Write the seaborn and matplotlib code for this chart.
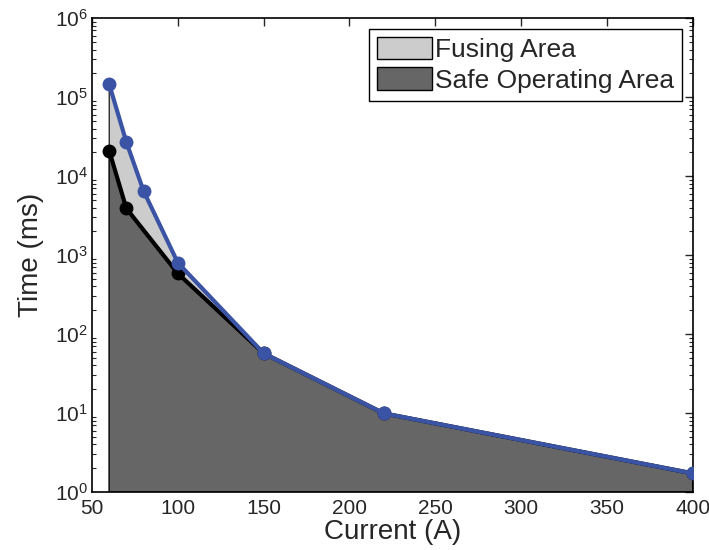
import matplotlib
matplotlib.use("Agg")
import matplotlib.pyplot as plt
import seaborn as sns
import pandas as pd
from matplotlib.patches import Patch
from matplotlib.ticker import LogLocator, NullFormatter

# Data
fusing_current = [60, 70, 80, 100, 150, 220, 400]
fusing_time = [1.46e5, 2.7e4, 6.5e3, 800, 57, 9.9, 1.72]
safe_current = [60, 70, 100, 150, 220, 400]
safe_time = [2.1e4, 3.9e3, 585, 57, 9.9, 1.72]
x_ticks = [50, 100, 150, 200, 250, 300, 350, 400]
legend_labels = ["Fusing Area", "Safe Operating Area"]

sns.set_style("white")
plt.rcParams["font.family"] = ["Liberation Sans", "DejaVu Sans"]
plt.rcParams["mathtext.fontset"] = "custom"
plt.rcParams["mathtext.rm"] = "Liberation Sans"
plt.rcParams["mathtext.it"] = "Liberation Sans:italic"

blue = "#3A53A4"
light = "#CCCCCC"
dark = "#666666"

fig = plt.figure(figsize=(7.09, 5.5), dpi=100)
ax = fig.add_axes([0.1298, 0.1055, 0.8472, 0.8615])
ax.set_yscale("log")
ax.set_xlim(50, 400)
ax.set_ylim(1, 1e6)

# filled areas (down to the bottom of the axis)
fx = fusing_current + [fusing_current[-1], fusing_current[0]]
fy = fusing_time + [1, 1]
ax.fill(fx, fy, facecolor=light, edgecolor="black", linewidth=0.8, zorder=1)
sx = safe_current + [safe_current[-1], safe_current[0]]
sy = safe_time + [1, 1]
ax.fill(sx, sy, facecolor=dark, edgecolor="black", linewidth=0.8, zorder=2)

df_safe = pd.DataFrame({"Current": safe_current, "Time": safe_time})
df_fuse = pd.DataFrame({"Current": fusing_current, "Time": fusing_time})
sns.lineplot(data=df_safe, x="Current", y="Time", ax=ax, color="black",
             linewidth=3, marker="o", markersize=10, markeredgewidth=0,
             zorder=3, legend=False)
sns.lineplot(data=df_fuse, x="Current", y="Time", ax=ax, color=blue,
             linewidth=3, marker="o", markersize=10, markeredgewidth=0,
             zorder=4, legend=False)

ax.set_xticks(x_ticks)
ax.set_xticklabels([str(v) for v in x_ticks])
ax.yaxis.set_major_locator(LogLocator(base=10, numticks=10))
ax.yaxis.set_minor_locator(LogLocator(base=10, subs=range(2, 10), numticks=20))
ax.yaxis.set_minor_formatter(NullFormatter())
ax.tick_params(axis="both", which="major", direction="in", length=6, width=1,
               top=True, right=True, labelsize=15, pad=3)
ax.tick_params(axis="x", which="major", pad=5)
ax.tick_params(axis="y", which="minor", direction="in", length=3, width=0.8,
               left=True, right=True)
for s in ax.spines.values():
    s.set_linewidth(1.2)
    s.set_color("black")

ax.set_xlabel("Current (A)", fontsize=20, labelpad=1)
ax.set_ylabel("Time (ms)", fontsize=20, labelpad=8)

handles = [Patch(facecolor=light, edgecolor="black", linewidth=1),
           Patch(facecolor=dark, edgecolor="black", linewidth=1)]
leg = ax.legend(handles, legend_labels, loc="upper right", fontsize=19,
                frameon=True, fancybox=False, edgecolor="black",
                handlelength=2.1, handleheight=0.95, handletextpad=0.1,
                borderpad=0.3, labelspacing=0.2, borderaxespad=0.4)
leg.get_frame().set_linewidth(1)
leg.get_frame().set_alpha(1)

fig.savefig("out.png", dpi=100)
